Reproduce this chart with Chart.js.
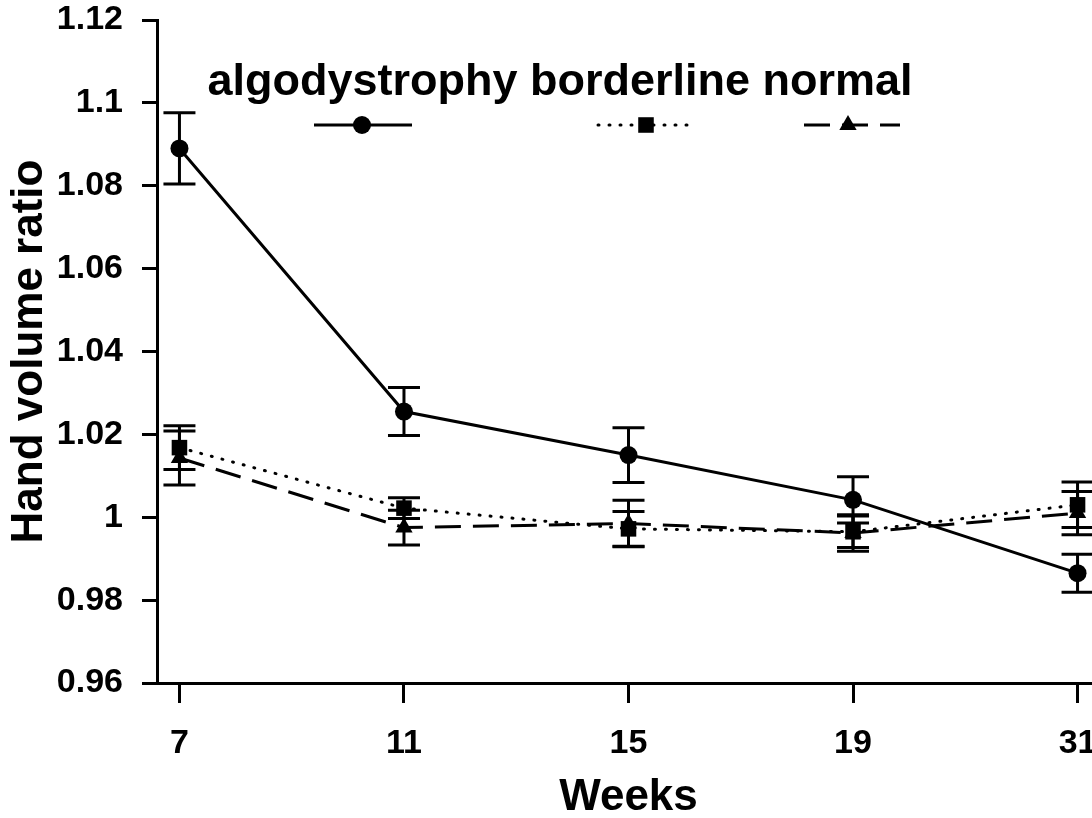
<!DOCTYPE html>
<html>
<head>
<meta charset="utf-8">
<script src="https://cdn.jsdelivr.net/npm/chart.js@4.4.1/dist/chart.umd.min.js"></script>
<style>
html, body { margin: 0; padding: 0; background: #fff; overflow: hidden; }
#wrap { position: absolute; left: 0; top: 0; width: 1120px; height: 818px; }
</style>
</head>
<body>
<div id="wrap"><canvas id="handChart"></canvas></div>
<script>
// values
const weeks = ['7', '11', '15', '19', '31'];
const seriesNames = ['algodystrophy', 'borderline', 'normal'];
const algodystrophy = [1.089, 1.0255, 1.015, 1.0042, 0.9865];
const algodystrophyErr = [0.0086, 0.0058, 0.0066, 0.0056, 0.0046];
const borderline = [1.0168, 1.0022, 0.9972, 0.9965, 1.003];
const borderlineErr = [0.0053, 0.0025, 0.0042, 0.0038, 0.0055];
const normal = [1.0143, 0.9975, 0.9985, 0.9962, 1.001];
const normalErr = [0.0065, 0.0042, 0.0056, 0.0044, 0.0052];
const yTicks = [0.96, 0.98, 1, 1.02, 1.04, 1.06, 1.08, 1.1, 1.12];

const FONT = '"Liberation Sans", Arial, Helvetica, sans-serif';
const errors = [algodystrophyErr, borderlineErr, normalErr];

function toPoints(arr) {
    return arr.map((v, i) => ({ x: i, y: v }));
}

// vertical error bars with caps, drawn under the markers
const errorBarPlugin = {
    id: 'errorBars',
    beforeDatasetsDraw(chart) {
        const ctx = chart.ctx;
        const xs = chart.scales.x, ys = chart.scales.y;
        ctx.save();
        ctx.strokeStyle = '#000';
        ctx.lineWidth = 3;
        chart.data.datasets.forEach((ds, k) => {
            ds.data.forEach((p, i) => {
                const e = errors[k][i];
                const px = xs.getPixelForValue(p.x);
                const top = ys.getPixelForValue(p.y + e);
                const bot = ys.getPixelForValue(p.y - e);
                ctx.beginPath();
                ctx.moveTo(px, top); ctx.lineTo(px, bot);
                ctx.moveTo(px - 16, top); ctx.lineTo(px + 16, top);
                ctx.moveTo(px - 16, bot); ctx.lineTo(px + 16, bot);
                ctx.stroke();
            });
        });
        ctx.restore();
    }
};

function marker(ctx, style, r, x, y) {
    ctx.beginPath();
    if (style === 'circle') {
        ctx.arc(x, y, r, 0, Math.PI * 2);
    } else if (style === 'rect') {
        const s = r * Math.SQRT1_2;
        ctx.rect(x - s, y - s, 2 * s, 2 * s);
    } else {
        ctx.moveTo(x, y - r);
        ctx.lineTo(x + r * 0.866, y + r * 0.5);
        ctx.lineTo(x - r * 0.866, y + r * 0.5);
        ctx.closePath();
    }
    ctx.fill();
}

// the odd legend: names on one line, samples underneath
const legendPlugin = {
    id: 'topLegend',
    afterDraw(chart) {
        const ctx = chart.ctx;
        ctx.save();
        ctx.fillStyle = '#000';
        ctx.strokeStyle = '#000';
        ctx.font = 'bold 45px ' + FONT;
        ctx.textAlign = 'center';
        ctx.textBaseline = 'alphabetic';
        ctx.fillText(seriesNames.join(' '), 560, 95);

        const samples = [[314, 412, 362], [598, 690, 646], [804, 900, 848]];
        chart.data.datasets.forEach((ds, k) => {
            const [x1, x2, xm] = samples[k];
            ctx.lineWidth = ds.borderWidth;
            ctx.lineCap = ds.borderCapStyle || 'butt';
            ctx.setLineDash(ds.borderDash || []);
            ctx.beginPath();
            ctx.moveTo(x1, 125);
            ctx.lineTo(x2, 125);
            ctx.stroke();
            ctx.setLineDash([]);
            marker(ctx, ds.pointStyle, ds.pointRadius, xm, 125);
        });
        ctx.restore();
    }
};

const ctx = document.getElementById('handChart').getContext('2d');
new Chart(ctx, {
    type: 'line',
    data: {
        datasets: [
            {
                label: seriesNames[0],
                data: toPoints(algodystrophy),
                borderColor: '#000',
                backgroundColor: '#000',
                borderWidth: 3,
                pointStyle: 'circle',
                pointRadius: 9,
                pointBackgroundColor: '#000',
                pointBorderWidth: 0,
                tension: 0
            },
            {
                label: seriesNames[1],
                data: toPoints(borderline),
                borderColor: '#000',
                backgroundColor: '#000',
                borderWidth: 3,
                borderDash: [1, 10],
                borderCapStyle: 'round',
                pointStyle: 'rect',
                pointRadius: 11,
                pointBackgroundColor: '#000',
                pointBorderWidth: 0,
                tension: 0
            },
            {
                label: seriesNames[2],
                data: toPoints(normal),
                borderColor: '#000',
                backgroundColor: '#000',
                borderWidth: 3,
                borderDash: [26, 12],
                pointStyle: 'triangle',
                pointRadius: 10,
                pointBackgroundColor: '#000',
                pointBorderWidth: 0,
                tension: 0
            }
        ]
    },
    options: {
        responsive: true,
        maintainAspectRatio: false,
        animation: false,
        events: [],
        layout: { padding: { top: 20, right: 20, left: 0, bottom: 0 } },
        plugins: {
            legend: { display: false },
            tooltip: { enabled: false }
        },
        scales: {
            x: {
                type: 'linear',
                min: -0.1,
                max: 4.1,
                afterFit(scale) { scale.height = 135; },
                border: { display: true, color: '#000', width: 3 },
                grid: { drawOnChartArea: false, drawTicks: true, tickLength: 20, tickWidth: 3, tickColor: '#000' },
                ticks: {
                    stepSize: 1,
                    includeBounds: false,
                    padding: 20,
                    color: '#000',
                    font: { family: FONT, size: 34, weight: 'bold' },
                    callback: v => weeks[v] !== undefined ? weeks[v] : ''
                },
                title: {
                    display: true,
                    text: 'Weeks',
                    color: '#000',
                    font: { family: FONT, size: 44, weight: 'bold', lineHeight: 1 },
                    padding: { top: 0, bottom: -2 }
                }
            },
            y: {
                min: yTicks[0],
                max: yTicks[yTicks.length - 1],
                afterFit(scale) {
                    scale.width = 157;
                    // keep the top tick at the padding line
                    scale.paddingTop = 0;
                    scale.paddingBottom = 0;
                },
                afterBuildTicks(scale) { scale.ticks = yTicks.map(v => ({ value: v })); },
                border: { display: true, color: '#000', width: 3 },
                grid: { drawOnChartArea: false, drawTicks: true, tickLength: 15, tickWidth: 3, tickColor: '#000' },
                ticks: {
                    padding: 19,
                    color: '#000',
                    font: { family: FONT, size: 34, weight: 'bold' },
                    callback: v => String(+v.toFixed(2))
                },
                title: {
                    display: true,
                    text: 'Hand volume ratio',
                    color: '#000',
                    font: { family: FONT, size: 44, weight: 'bold', lineHeight: 1 },
                    padding: { top: 8, bottom: 0 }
                }
            }
        }
    },
    plugins: [errorBarPlugin, legendPlugin]
});
</script>
</body>
</html>
